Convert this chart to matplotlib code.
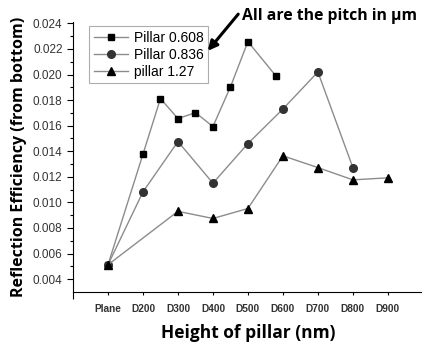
import numpy as np
import matplotlib
matplotlib.use("Agg")
import matplotlib.pyplot as plt

# Données
categories = ['Plane', 'D200', 'D300', 'D400', 'D500', 'D600', 'D700', 'D800', 'D900']

x_0608 = [1, 2, 2.5, 3, 3.5, 4, 4.5, 5, 5.8]
y_0608 = [0.00512, 0.01377, 0.01812, 0.01655, 0.01702, 0.01593, 0.01903, 0.02257, 0.01989]

x_0836 = [1, 2, 3, 4, 5, 6, 7, 8]
y_0836 = [0.00512, 0.01082, 0.01476, 0.0115, 0.0146, 0.0173, 0.0202, 0.01272]

x_127 = [1, 3, 4, 5, 6, 7, 8, 9]
y_127 = [0.00512, 0.0093, 0.00874, 0.00952, 0.01364, 0.01272, 0.01176, 0.01192]

line_col = '#8c8c8c'

fig = plt.figure(figsize=(4.22, 3.45), dpi=100)
ax = fig.add_axes([0.173, 0.154, 0.829, 0.782])

ax.plot(x_0608, y_0608, color=line_col, lw=1, marker='s', ms=5,
        mfc='black', mec='black', label='Pillar 0.608')
ax.plot(x_0836, y_0836, color=line_col, lw=1, marker='o', ms=5.5,
        mfc='#333333', mec='#333333', label='Pillar 0.836')
ax.plot(x_127, y_127, color=line_col, lw=1, marker='^', ms=6,
        mfc='black', mec='black', label='pillar 1.27')

ax.set_xlim(0, 10)
ax.set_ylim(0.003, 0.0241)

ax.spines['top'].set_visible(False)
ax.spines['right'].set_visible(False)

# Axe x : libellés sur chaque catégorie, ticks longs aux positions paires
ax.set_xticks(range(1, 10))
ax.set_xticklabels(categories, fontsize=7.3, fontweight='bold',
                   family='Liberation Sans', color='#333333')
ax.set_xticks([0, 2, 4, 6, 8], minor=True)
ax.tick_params(axis='x', which='major', length=2.5, width=0.8, pad=6)
ax.tick_params(axis='x', which='minor', length=5, width=0.8)

# Axe y
ax.set_yticks(np.arange(0.004, 0.0245, 0.002))
ax.set_yticklabels(['%.3f' % v for v in np.arange(0.004, 0.0245, 0.002)],
                   fontsize=8.5, family='Liberation Sans', color='#333333')
ax.set_yticks(np.arange(0.005, 0.024, 0.002), minor=True)
ax.tick_params(axis='y', which='major', length=4, width=0.8)
ax.tick_params(axis='y', which='minor', length=2, width=0.8)

ax.set_xlabel('Height of pillar (nm)', fontsize=12.5, fontweight='bold',
              family='Open Sans', va='center')
ax.xaxis.set_label_coords(0.5, -0.152)
ax.set_ylabel('Reflection Efficiency (from bottom)', fontsize=11.5,
              fontweight='bold', family='Open Sans', labelpad=4)

leg = ax.legend(loc='upper left', bbox_to_anchor=(0.045, 0.985),
                prop={'family': 'Liberation Sans', 'size': 10},
                fancybox=False, edgecolor='#999999', handlelength=2.5,
                borderpad=0.35, labelspacing=0.2, handletextpad=0.4,
                borderaxespad=0)
leg.get_frame().set_linewidth(0.8)

# Annotation
fig.text(242 / 422, 1 - 16 / 345, 'All are the pitch in \u03bcm', fontsize=11.3,
         fontweight='bold', family='Open Sans', ha='left', va='center')
fig.add_artist(matplotlib.patches.FancyArrowPatch(
    (240 / 422, 1 - 12 / 345), (206 / 422, 1 - 53 / 345),
    transform=fig.transFigure, arrowstyle='-|>', mutation_scale=14,
    lw=2.2, color='black'))

fig.savefig('out.png', dpi=100)
